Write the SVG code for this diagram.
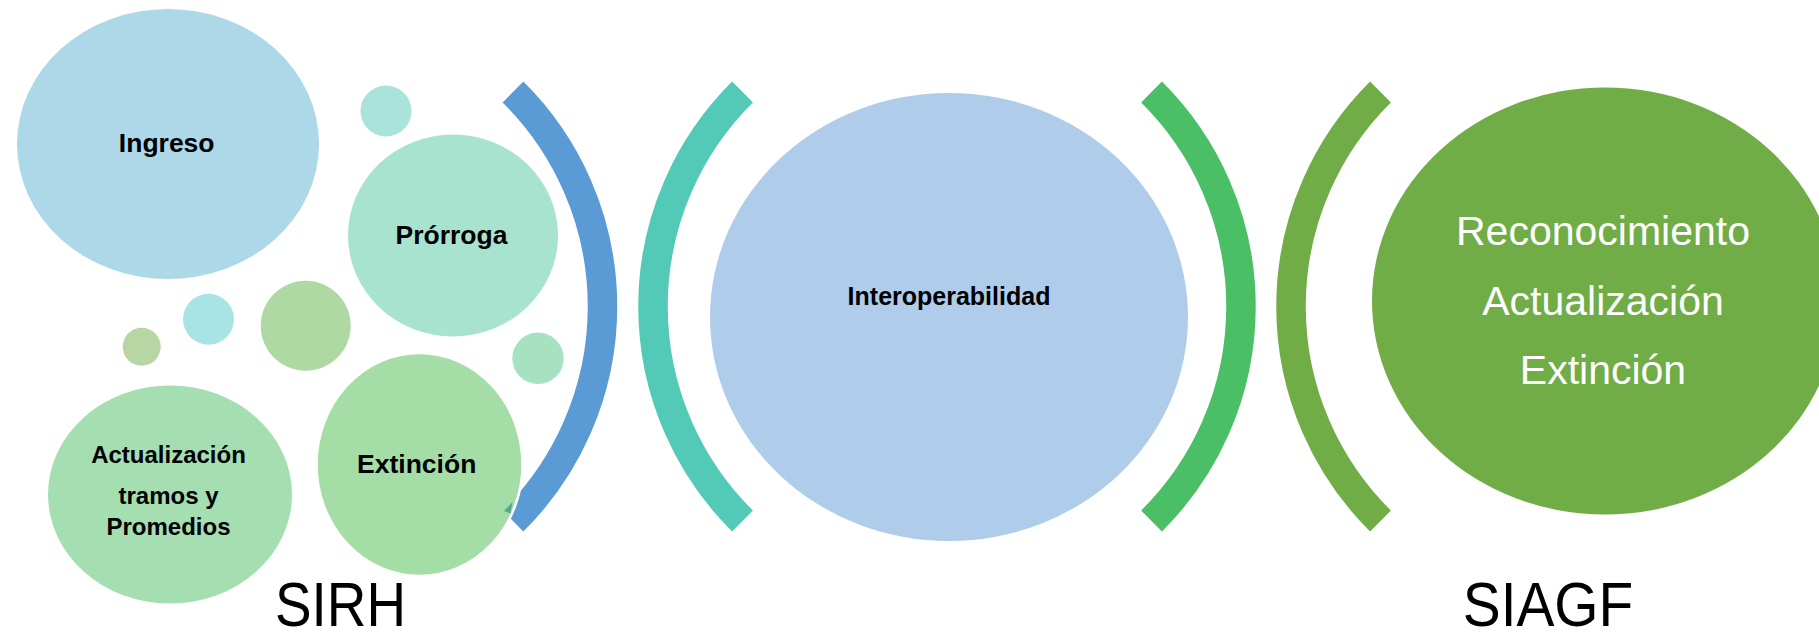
<svg xmlns="http://www.w3.org/2000/svg" width="1819" height="634" viewBox="0 0 1819 634">
<style>
.lbl{font-family:"Liberation Sans",Arial,sans-serif;font-weight:bold;fill:#000;text-anchor:middle}
.big{font-family:"Liberation Sans",Arial,sans-serif;font-size:63px;fill:#000;text-anchor:middle}
.wht{font-family:"Liberation Sans",Arial,sans-serif;font-size:41px;fill:#fff;text-anchor:middle}
.arc{fill:none;stroke-width:29.5;stroke-linecap:butt}
</style>
<rect width="1819" height="634" fill="#fff"/>
<g id="connectors">
<path class="arc" stroke="#5B9BD5" d="M513 92 A301.8 301.8 0 0 1 513 521"/>
<path class="arc" stroke="#53C9B7" d="M742.5 92 A301.8 301.8 0 0 0 742.5 521"/>
<path class="arc" stroke="#4BBF65" d="M1151.5 92 A301.8 301.8 0 0 1 1151.5 521"/>
<path class="arc" stroke="#70AD47" d="M1380.5 92 A301.8 301.8 0 0 0 1380.5 521"/>
</g>
<g id="ingreso">
<ellipse cx="168" cy="144" rx="151" ry="135" fill="#ADD8E8"/>
<text class="lbl" x="166.7" y="151.7" font-size="26.5">Ingreso</text>
</g>
<g id="bubble-top"><circle cx="386" cy="111" r="25.5" fill="#A9E3DC"/></g>
<g id="prorroga">
<ellipse cx="453" cy="235.5" rx="105" ry="101" fill="#A8E3CF"/>
<text class="lbl" x="451.5" y="244" font-size="26.5">Prórroga</text>
</g>
<g id="bubble-olive"><circle cx="141.7" cy="346.8" r="19" fill="#B7D6A3"/></g>
<g id="bubble-cyan"><circle cx="208.5" cy="319.2" r="25.5" fill="#A8E3E5"/></g>
<g id="bubble-green"><circle cx="305.7" cy="325.7" r="45" fill="#AED9A3"/></g>
<g id="bubble-right"><circle cx="538" cy="358.3" r="25.7" fill="#A6E2C2"/></g>
<g id="actualizacion">
<ellipse cx="170" cy="494.5" rx="122" ry="109" fill="#A5DEB0"/>
<text class="lbl" x="168.5" y="463.3" font-size="24">Actualización</text>
<text class="lbl" x="168.5" y="504" font-size="24">tramos y</text>
<text class="lbl" x="168.5" y="535" font-size="24">Promedios</text>
</g>
<g id="extincion">
<ellipse cx="419.5" cy="464.5" rx="103" ry="111.5" fill="#A5DDA7" stroke="#fff" stroke-width="2.5"/>
<polygon points="504,511 512.5,502 510.5,513.5" fill="#4FA98F"/>
<text class="lbl" x="416.7" y="473.4" font-size="26.5">Extinción</text>
</g>
<g id="sirh-label"><text class="big" x="340.5" y="625.5" textLength="131" lengthAdjust="spacingAndGlyphs">SIRH</text></g>
<g id="interoperabilidad">
<ellipse cx="949" cy="317" rx="239" ry="224" fill="#AFCCEA"/>
<text class="lbl" x="949" y="305" font-size="25">Interoperabilidad</text>
</g>
<g id="siagf">
<ellipse cx="1605" cy="301" rx="233" ry="213.6" fill="#70AD47"/>
<text class="wht" x="1603" y="245">Reconocimiento</text>
<text class="wht" x="1603" y="314.5">Actualización</text>
<text class="wht" x="1603" y="384">Extinción</text>
</g>
<g id="siagf-label"><text class="big" x="1548" y="625.5" textLength="170.5" lengthAdjust="spacingAndGlyphs">SIAGF</text></g>
</svg>
